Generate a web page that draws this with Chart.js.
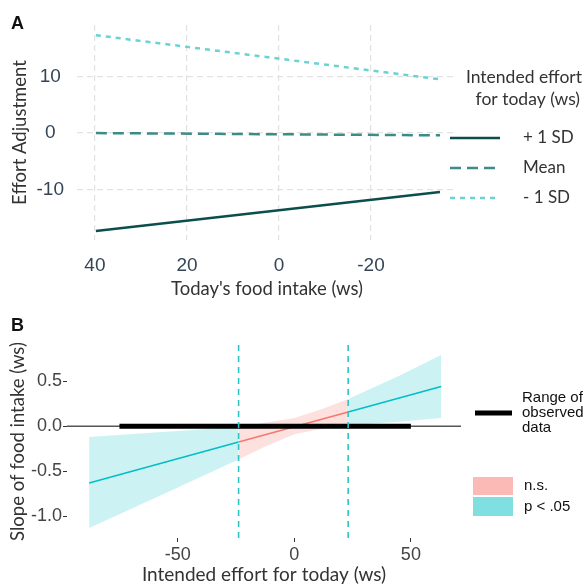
<!DOCTYPE html>
<html>
<head>
<meta charset="utf-8">
<script src="https://cdn.jsdelivr.net/npm/chart.js@4.4.1/dist/chart.umd.min.js"></script>
<style>
  html, body { margin: 0; padding: 0; background: #fff; }
  #wrap { position: relative; width: 584px; height: 586px; }
  #chartA { position: absolute; left: 0; top: 0; }
  #chartB { position: absolute; left: 0; top: 300px; }
</style>
</head>
<body>
<div id="wrap">
  <canvas id="chartA" width="584" height="300"></canvas>
  <canvas id="chartB" width="584" height="286"></canvas>
</div>
<script>
// Panel A: simple slopes of today's food intake
const foodIntake = [39.8, -35];
const plusOneSD = [-17.3, -10.4];
const meanLevel = [0.0, -0.4];
const minusOneSD = [17.3, 9.5];
const xTicksA = [40, 20, 0, -20];
const yTicksA = [-10, 0, 10];
const seriesNamesA = ['+ 1 SD', 'Mean', '- 1 SD'];

// Panel B: Johnson-Neyman plot
const effortGrid = [-88, -60, -23.9, -12, 0, 12, 23.1, 45, 63];
const ciLower = [-1.13, -0.80, -0.37, -0.22, -0.09, -0.03, 0.01, 0.05, 0.09];
const ciUpper = [-0.12, -0.07, -0.01, 0.04, 0.09, 0.19, 0.30, 0.56, 0.79];
const effortLine = [-88, -23.9, 23.1, 63];
const slopeLine = [-0.63, -0.175, 0.158, 0.44];
const jnBounds = [-23.9, 23.1];
const observedRange = [-75, 50];
const xTicksB = [-50, 0, 50];
const yTicksB = [-1, -0.5, 0, 0.5];

const colA = ['#0a4f4c', '#3b8b86', '#6ad3d2'];
const cyan = '#00BFC4', salmon = '#F8766D';
const titleFont = 'Lato';

function pts(xs, ys) { return xs.map((x, i) => ({ x: x, y: ys[i] })); }
function fixTicks(list) { return scale => { scale.ticks = list.map(v => ({ value: v })); }; }

// ---------- Panel A ----------
const legendA = {
  id: 'legendA',
  afterDraw(chart) {
    const ctx = chart.ctx;
    ctx.save();
    ctx.textBaseline = 'middle';
    ctx.fillStyle = '#111';
    ctx.font = 'bold 18px "Liberation Sans"';
    ctx.fillText('A', 11, 24);
    ctx.font = '17.5px ' + titleFont;
    ctx.fillStyle = '#333';
    ctx.textAlign = 'right';
    ctx.fillText('Intended effort', 582, 77);
    ctx.fillText('for today (ws)', 580, 99);
    ctx.textAlign = 'left';
    ctx.font = '17px ' + titleFont;
    const dashes = [[], [11, 6], [5, 5]];
    [138, 168, 198].forEach((y, i) => {
      ctx.strokeStyle = colA[i];
      ctx.lineWidth = 2.5;
      ctx.setLineDash(dashes[i]);
      ctx.beginPath();
      ctx.moveTo(450, y);
      ctx.lineTo(500, y);
      ctx.stroke();
      ctx.setLineDash([]);
      ctx.fillText(seriesNamesA[i], 523, y);
    });
    ctx.restore();
  }
};

new Chart(document.getElementById('chartA'), {
  type: 'line',
  data: {
    datasets: [
      { label: seriesNamesA[0], data: pts(foodIntake, plusOneSD), borderColor: colA[0], borderWidth: 2.5 },
      { label: seriesNamesA[1], data: pts(foodIntake, meanLevel), borderColor: colA[1], borderWidth: 2.5, borderDash: [11, 6] },
      { label: seriesNamesA[2], data: pts(foodIntake, minusOneSD), borderColor: colA[2], borderWidth: 2.5, borderDash: [5, 5] }
    ]
  },
  options: {
    responsive: false,
    animation: false,
    events: [],
    layout: { padding: { left: 0, right: 127, top: 25, bottom: 0 } },
    elements: { point: { radius: 0 }, line: { tension: 0 } },
    plugins: { legend: { display: false }, tooltip: { enabled: false } },
    scales: {
      x: {
        type: 'linear', reverse: true, min: -38.7, max: 43.9,
        afterBuildTicks: fixTicks(xTicksA),
        afterFit: s => { s.height = 60; },
        grid: { color: '#e2e2e2', lineWidth: 1.2, drawTicks: false },
        border: { display: false, dash: [6, 4] },
        ticks: { color: '#344556', font: { family: 'Liberation Sans', size: 19 }, padding: 14 },
        title: { display: true, text: "Today's food intake (ws)", color: '#333', font: { family: titleFont, size: 18.5 }, padding: { top: 0, bottom: 0 } }
      },
      y: {
        type: 'linear', min: -18.9, max: 19.1,
        afterBuildTicks: fixTicks(yTicksA),
        afterFit: s => { s.width = 77; },
        grid: { color: '#e2e2e2', lineWidth: 1.2, drawTicks: false },
        border: { display: false, dash: [6, 4] },
        ticks: { color: '#344556', font: { family: 'Liberation Sans', size: 19 }, padding: 13, crossAlign: 'center' },
        title: { display: true, text: 'Effort Adjustment', color: '#333', font: { family: titleFont, size: 18.5 }, padding: { top: 9, bottom: 0 } }
      }
    }
  },
  plugins: [legendA]
});

// ---------- Panel B ----------
const inLeft = effortGrid.map(x => x <= jnBounds[0]);
const inMid = effortGrid.map(x => x >= jnBounds[0] && x <= jnBounds[1]);
const inRight = effortGrid.map(x => x >= jnBounds[1]);
function band(mask, arr) { return effortGrid.map((x, i) => ({ x: x, y: arr[i] })).filter((p, i) => mask[i]); }

const legendB = {
  id: 'legendB',
  afterDraw(chart) {
    const ctx = chart.ctx;
    ctx.save();
    ctx.fillStyle = '#111';
    ctx.font = 'bold 18px "Liberation Sans"';
    ctx.textBaseline = 'middle';
    ctx.fillText('B', 11, 26);
    ctx.strokeStyle = '#000';
    ctx.lineWidth = 5;
    ctx.beginPath();
    ctx.moveTo(475, 113);
    ctx.lineTo(512, 113);
    ctx.stroke();
    ctx.font = '15px "Liberation Sans"';
    ctx.fillStyle = '#111';
    ctx.fillText('Range of', 522, 98);
    ctx.fillText('observed', 522, 113);
    ctx.fillText('data', 522, 128);
    ctx.fillStyle = 'rgba(248,118,109,0.5)';
    ctx.fillRect(473, 177, 40, 18);
    ctx.fillStyle = 'rgba(0,191,196,0.5)';
    ctx.fillRect(473, 197, 40, 19);
    ctx.fillStyle = '#111';
    ctx.fillText('n.s.', 524, 186);
    ctx.fillText('p < .05', 524, 207);
    ctx.restore();
  }
};

const lineOpts = { borderWidth: 1.5, pointRadius: 0, fill: false };
const jnSegments = jnBounds.flatMap((x, i) => (i ? [{ x: NaN, y: NaN }] : []).concat([{ x: x, y: -1.24 }, { x: x, y: 0.9 }]));
new Chart(document.getElementById('chartB'), {
  type: 'line',
  data: {
    datasets: [
      { data: jnSegments, borderColor: '#2ec4c6', borderWidth: 1.6, borderDash: [6, 5], spanGaps: false, order: 0 },
      { data: pts(observedRange, [0, 0]), borderColor: '#000', borderWidth: 5, order: 1 },
      { data: pts([-97.5, 71.5], [0, 0]), borderColor: '#000', borderWidth: 1, order: 2 },
      { data: pts(effortLine.slice(0, 2), slopeLine.slice(0, 2)), borderColor: cyan, ...lineOpts, order: 3 },
      { data: pts(effortLine.slice(1, 3), slopeLine.slice(1, 3)), borderColor: salmon, ...lineOpts, order: 3 },
      { data: pts(effortLine.slice(2, 4), slopeLine.slice(2, 4)), borderColor: cyan, ...lineOpts, order: 3 },
      { data: band(inLeft, ciLower), borderWidth: 0, pointRadius: 0, order: 10 },
      { data: band(inLeft, ciUpper), borderWidth: 0, pointRadius: 0, fill: '-1', backgroundColor: 'rgba(0,191,196,0.2)', order: 10 },
      { data: band(inMid, ciLower), borderWidth: 0, pointRadius: 0, order: 10 },
      { data: band(inMid, ciUpper), borderWidth: 0, pointRadius: 0, fill: '-1', backgroundColor: 'rgba(248,118,109,0.22)', order: 10 },
      { data: band(inRight, ciLower), borderWidth: 0, pointRadius: 0, order: 10 },
      { data: band(inRight, ciUpper), borderWidth: 0, pointRadius: 0, fill: '-1', backgroundColor: 'rgba(0,191,196,0.2)', order: 10 }
    ]
  },
  options: {
    responsive: false,
    animation: false,
    events: [],
    layout: { padding: { left: 0, right: 123, top: 45, bottom: 0 } },
    elements: { point: { radius: 0 }, line: { tension: 0 } },
    plugins: { legend: { display: false }, tooltip: { enabled: false } },
    scales: {
      x: {
        type: 'linear', min: -97.5, max: 71.5,
        afterBuildTicks: fixTicks(xTicksB),
        afterFit: s => { s.height = 48; },
        grid: { drawOnChartArea: false, drawTicks: true, tickLength: 4, color: '#333' },
        border: { display: false },
        ticks: { color: '#444', font: { family: 'Liberation Sans', size: 18 }, padding: 2 },
        title: { display: true, text: 'Intended effort for today (ws)', color: '#333', font: { family: titleFont, size: 19 }, padding: { top: 0, bottom: 0 } }
      },
      y: {
        type: 'linear', min: -1.24, max: 0.9,
        afterBuildTicks: fixTicks(yTicksB),
        afterFit: s => { s.width = 67; },
        grid: { drawOnChartArea: false, drawTicks: true, tickLength: 4, color: '#333' },
        border: { display: false },
        ticks: { color: '#444', font: { family: 'Liberation Sans', size: 18 }, padding: 1, callback: v => v.toFixed(1) },
        title: { display: true, text: 'Slope of food intake (ws)', color: '#333', font: { family: titleFont, size: 18.5 }, padding: { top: 7, bottom: 0 } }
      }
    }
  },
  plugins: [legendB]
});
</script>
</body>
</html>
